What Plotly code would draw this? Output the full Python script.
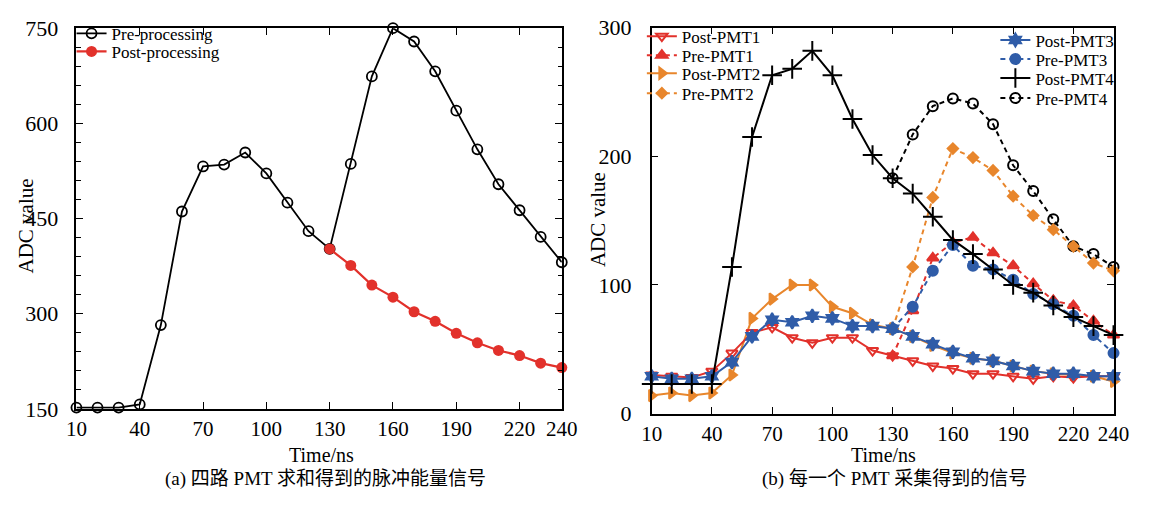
import plotly.graph_objects as go

# ---------------- data ----------------
time = [10, 20, 30, 40, 50, 60, 70, 80, 90, 100, 110, 120,
        130, 140, 150, 160, 170, 180, 190, 200, 210, 220, 230, 240]
time_tail = [130, 140, 150, 160, 170, 180, 190, 200, 210, 220, 230, 240]
x_ticks = [10, 40, 70, 100, 130, 160, 190, 220, 240]

# (a) summed signal
pre_processing = [152, 152, 152, 157, 282, 461, 532, 535, 554, 521, 475, 430,
                  402, 536, 674, 750, 729, 682, 620, 559, 504, 463, 421, 381]
post_processing = [402, 376, 345, 326, 303, 288, 269, 254, 242, 234, 222, 215]

# (b) individual PMTs
post_pmt1 = [30, 29, 28, 33, 47, 63, 67, 59, 55, 59, 59, 49,
             45, 41, 37, 35, 31, 31, 29, 27, 29, 28, 29, 29]
post_pmt2 = [14, 16, 14, 16, 30, 74, 89, 100, 100, 83, 78, 69,
             66, 60, 53, 47, 43, 41, 37, 33, 31, 30, 29, 25]
post_pmt3 = [29, 27, 27, 29, 40, 60, 73, 71, 76, 74, 68, 68,
             66, 60, 54, 48, 43, 41, 37, 33, 31, 31, 29, 29]
post_pmt4 = [23, 23, 23, 23, 114, 215, 263, 268, 282, 263, 229, 201,
             183, 171, 153, 135, 124, 112, 100, 94, 84, 75, 68, 61]
pre_pmt1 = [45, 80, 121, 133, 137, 125, 115, 101, 88, 84, 72, 61]
pre_pmt2 = [66, 114, 168, 206, 199, 189, 169, 154, 143, 130, 117, 111]
pre_pmt3 = [66, 83, 111, 131, 115, 112, 104, 93, 85, 76, 61, 47]
pre_pmt4 = [183, 217, 239, 245, 241, 225, 193, 173, 151, 130, 124, 114]

# ---------------- style ----------------
W, H = 1152, 505
SERIF = "Liberation Serif, Times New Roman, serif"
CAPTION_FONT = "Liberation Serif, Noto Sans CJK SC, serif"
RED = "#e2312b"
ORANGE = "#e8862c"
BLUE = "#2f5ca8"
BLACK = "#000000"
LEG_FONT = dict(family=SERIF, size=17, color=BLACK)


def px(xp):
    return xp / W


def py(yp):
    return 1 - yp / H


fig = go.Figure()
legends = {}


def legend_slot(idx, x_left, y_top):
    key = "legend" if idx == 1 else f"legend{idx}"
    legends[key] = dict(x=px(x_left), y=py(y_top), xanchor="left", yanchor="top",
                        bgcolor="rgba(0,0,0,0)", font=LEG_FONT, itemwidth=30)
    return key


# ---- left chart ----
fig.add_trace(go.Scatter(
    x=time, y=pre_processing, name="Pre-processing", mode="lines+markers",
    line=dict(color=BLACK, width=1.8),
    marker=dict(symbol="circle-open", size=10, color=BLACK, line=dict(width=1.8)),
    xaxis="x", yaxis="y", legend=legend_slot(1, 62, 4), cliponaxis=False))
fig.add_trace(go.Scatter(
    x=time_tail, y=post_processing, name="Post-processing", mode="lines+markers",
    line=dict(color=RED, width=2.2),
    marker=dict(symbol="circle", size=11, color=RED),
    xaxis="x", yaxis="y", legend=legend_slot(2, 62, 23), cliponaxis=False))

# ---- right chart (draw order) with legend slot positions ----
dash = "5px,4px"
right_traces = [
    dict(x=time_tail, y=pre_pmt4, name="Pre-PMT4", color=BLACK, dash=dash,
         symbol="circle-open", size=10, slot=(10, 1008, 72)),
    dict(x=time_tail, y=pre_pmt2, name="Pre-PMT2", color=ORANGE, dash=dash,
         symbol="diamond", size=8, slot=(6, 646, 67)),
    dict(x=time_tail, y=pre_pmt1, name="Pre-PMT1", color=RED, dash=dash,
         symbol="triangle-up", size=10, slot=(4, 646, 27)),
    dict(x=time_tail, y=pre_pmt3, name="Pre-PMT3", color=BLUE, dash=dash,
         symbol="circle", size=10, slot=(8, 1008, 31)),
    dict(x=time, y=post_pmt2, name="Post-PMT2", color=ORANGE, dash="solid",
         symbol="triangle-right", size=10, slot=(5, 646, 46)),
    dict(x=time, y=post_pmt1, name="Post-PMT1", color=RED, dash="solid",
         symbol="triangle-down-open", size=10, slot=(3, 646, 7)),
    dict(x=time, y=post_pmt3, name="Post-PMT3", color=BLUE, dash="solid",
         symbol="hexagram", size=10, slot=(7, 1008, 11)),
    dict(x=time, y=post_pmt4, name="Post-PMT4", color=BLACK, dash="solid",
         symbol="cross-thin", size=14, slot=(9, 1008, 51)),
]
for t in right_traces:
    fig.add_trace(go.Scatter(
        x=t["x"], y=t["y"], name=t["name"], mode="lines+markers",
        line=dict(color=t["color"], width=2, dash=t["dash"]),
        marker=dict(symbol=t["symbol"], size=t["size"], color=t["color"],
                    line=dict(width=2, color=t["color"])),
        xaxis="x2", yaxis="y2", legend=legend_slot(*t["slot"]),
        cliponaxis=False))

axis_common = dict(
    showline=True, linecolor=BLACK, linewidth=1.5, mirror="ticks",
    ticks="inside", ticklen=7, tickwidth=1.4, tickcolor=BLACK,
    showgrid=False, zeroline=False,
)
XFONT = dict(family=SERIF, size=21, color=BLACK)
YFONT = dict(family=SERIF, size=22, color=BLACK)

fig.update_layout(
    width=W, height=H,
    margin=dict(l=0, r=0, t=0, b=0),
    paper_bgcolor="white", plot_bgcolor="white",
    xaxis=dict(domain=[px(67), px(564)], range=[10, 240], tickvals=x_ticks,
               anchor="y", ticklabelstandoff=0, tickfont=XFONT, **axis_common),
    yaxis=dict(domain=[py(417.5), py(17)], range=[150, 750],
               tickmode="linear", tick0=150, dtick=150, anchor="x",
               minor=dict(tickmode="linear", tick0=150, dtick=30, ticks="inside",
                          ticklen=4.5, tickcolor=BLACK, tickwidth=1.3,
                          showgrid=False),
               ticklabelstandoff=12, tickfont=YFONT, **axis_common),
    xaxis2=dict(domain=[px(656), px(1129)], range=[10, 240], tickvals=x_ticks,
                anchor="y2", ticklabelstandoff=0, tickfont=XFONT, **axis_common),
    yaxis2=dict(domain=[py(422.5), py(16.5)], range=[0, 300],
                tickvals=[0, 100, 200, 300], anchor="x2",
                ticklabelstandoff=14, tickfont=YFONT, **axis_common),
    showlegend=True,
    **legends,
)

annotations = [
    dict(text="ADC value", x=px(15), y=py(225), textangle=-90,
         font=dict(family=SERIF, size=21)),
    dict(text="ADC value", x=px(601), y=py(218), textangle=-90,
         font=dict(family=SERIF, size=21)),
    dict(text="Time/ns", x=px(318), y=py(466), font=dict(family=SERIF, size=20)),
    dict(text="Time/ns", x=px(893), y=py(466), font=dict(family=SERIF, size=20)),
    dict(text="(a) 四路 PMT 求和得到的脉冲能量信号", x=px(322), y=py(491),
         font=dict(family=CAPTION_FONT, size=19)),
    dict(text="(b) 每一个 PMT 采集得到的信号", x=px(905), y=py(491),
         font=dict(family=CAPTION_FONT, size=19)),
]
for a in annotations:
    a.update(xref="paper", yref="paper", showarrow=False,
             xanchor="center", yanchor="middle")
    a["font"]["color"] = BLACK
fig.update_layout(annotations=annotations)

fig.write_html("out.html")
